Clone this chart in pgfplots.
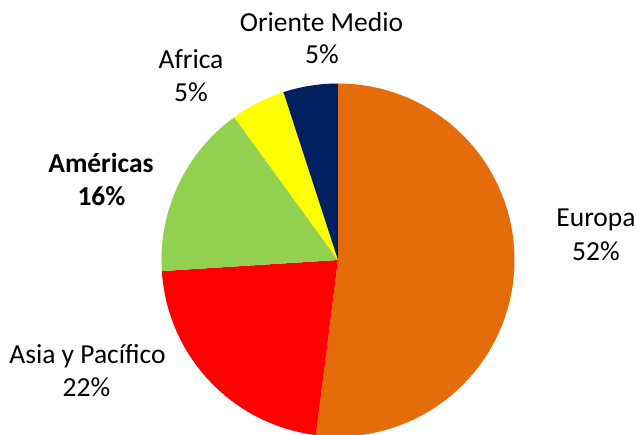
\documentclass[border=0pt]{standalone}
\usepackage{pgfplots}
\usepackage{pgfplotstable}
\pgfplotsset{compat=1.18}
\usepackage{fontspec}
\setmainfont{Carlito}

\definecolor{europa}{HTML}{E46C0A}
\definecolor{asia}{HTML}{FF0000}
\definecolor{americas}{HTML}{92D050}
\definecolor{africa}{HTML}{FFFF00}
\definecolor{oriente}{HTML}{002060}

% shares in percent, clockwise from 12 o'clock
\pgfplotstableread{
region share
Europa 52
Asia 22
Americas 16
Africa 5
Oriente 5
}\sharetable

\tikzset{lab/.style={anchor=base, inner sep=0pt, text=black,
  font=\fontsize{13.75bp}{16.5bp}\selectfont}}

\begin{document}
\begin{tikzpicture}
\pgfplotstablegetelem{0}{share}\of\sharetable\let\sA\pgfplotsretval
\pgfplotstablegetelem{1}{share}\of\sharetable\let\sB\pgfplotsretval
\pgfplotstablegetelem{2}{share}\of\sharetable\let\sC\pgfplotsretval
\pgfplotstablegetelem{3}{share}\of\sharetable\let\sD\pgfplotsretval
\pgfplotstablegetelem{4}{share}\of\sharetable\let\sE\pgfplotsretval
\pgfmathsetmacro\aA{90}
\pgfmathsetmacro\aB{\aA-3.6*\sA}
\pgfmathsetmacro\aC{\aB-3.6*\sB}
\pgfmathsetmacro\aD{\aC-3.6*\sC}
\pgfmathsetmacro\aE{\aD-3.6*\sD}
\pgfmathsetmacro\aF{\aE-3.6*\sE}
\def\R{88.25bp}
\path[use as bounding box] (0,0) rectangle (318bp,217.5bp);
\begin{axis}[
    x=0.5bp, y=0.5bp,
    xmin=0, xmax=636, ymin=0, ymax=435,
    scale only axis,
    hide axis,
    clip=false,
    anchor=origin, at={(0,0)},
]
\fill[europa] (axis cs:338,175) -- ([shift={(\aA:\R)}]axis cs:338,175)
  arc[start angle=\aA, end angle=\aB, radius=\R] -- cycle;
\fill[asia] (axis cs:338,175) -- ([shift={(\aB:\R)}]axis cs:338,175)
  arc[start angle=\aB, end angle=\aC, radius=\R] -- cycle;
\fill[americas] (axis cs:338,175) -- ([shift={(\aC:\R)}]axis cs:338,175)
  arc[start angle=\aC, end angle=\aD, radius=\R] -- cycle;
\fill[africa] (axis cs:338,175) -- ([shift={(\aD:\R)}]axis cs:338,175)
  arc[start angle=\aD, end angle=\aE, radius=\R] -- cycle;
\fill[oriente] (axis cs:338,175) -- ([shift={(\aE:\R)}]axis cs:338,175)
  arc[start angle=\aE, end angle=\aF, radius=\R] -- cycle;

\node[lab] at (axis cs:321.5,404) {Oriente Medio};
\node[lab] at (axis cs:322,372) {\sE\%};
\node[lab] at (axis cs:191,366.7) {Africa};
\node[lab] at (axis cs:191,334) {\sD\%};
\node[lab] at (axis cs:101,262.7) {\bfseries Américas};
\node[lab] at (axis cs:101.5,230) {\bfseries \sC\%};
\node[lab] at (axis cs:596,208.3) {Europa};
\node[lab] at (axis cs:596,174.3) {\sA\%};
\node[lab] at (axis cs:87.5,72) {Asia y Pacífico};
\node[lab] at (axis cs:86.5,38.3) {\sB\%};
\end{axis}
\end{tikzpicture}
\end{document}
